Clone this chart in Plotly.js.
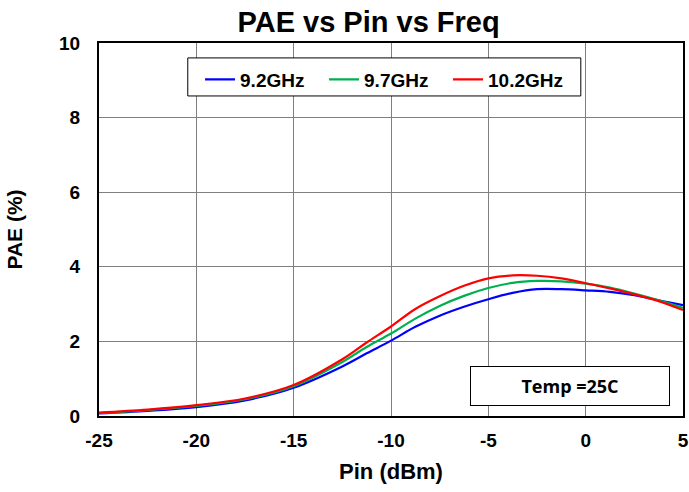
<!DOCTYPE html>
<html><head><meta charset="utf-8">
<script src="https://cdn.plot.ly/plotly-3.0.1.min.js"></script>
<style>body{margin:0;background:#fff}#c{width:689px;height:492px}</style>
</head><body><div id="c"></div>
<script>
const pin = [-25, -22.5, -20, -17.5, -15, -12.5, -11.25, -10, -8.75, -7.5, -6.25, -5, -3.75, -2.5, -1.25, 0, 1.25, 2.5, 3.75, 5];
const pae92 = [0.07, 0.14, 0.24, 0.42, 0.76, 1.33, 1.68, 2.02, 2.39, 2.69, 2.93, 3.13, 3.30, 3.40, 3.40, 3.37, 3.33, 3.24, 3.10, 2.97];
const pae97 = [0.08, 0.16, 0.27, 0.45, 0.80, 1.45, 1.85, 2.21, 2.61, 2.95, 3.22, 3.43, 3.57, 3.62, 3.61, 3.55, 3.44, 3.28, 3.10, 2.90];
const pae102 = [0.09, 0.17, 0.29, 0.47, 0.83, 1.52, 1.97, 2.40, 2.87, 3.21, 3.49, 3.69, 3.77, 3.76, 3.69, 3.56, 3.42, 3.26, 3.08, 2.84];
const names = ['9.2GHz', '9.7GHz', '10.2GHz'];
const colors = ['#0000ff', '#00b050', '#ff0000'];
const xTicks = [-25, -20, -15, -10, -5, 0, 5];
const yTicks = [0, 2, 4, 6, 8, 10];
const series = [pae92, pae97, pae102];
const traces = series.map((v, i) => ({
  x: pin, y: v, name: '<b>' + names[i] + '</b>', type: 'scatter', mode: 'lines',
  line: {color: colors[i], width: 2.2, shape: 'spline', smoothing: 1}
}));
const F = 'Liberation Sans, Arial, sans-serif';
const axisCommon = {
  showgrid: true, gridcolor: '#7f7f7f', gridwidth: 1,
  showline: true, linecolor: '#000', linewidth: 2, mirror: true,
  ticks: '', zeroline: false, fixedrange: true, tickmode: 'array'
};
const layout = {
  width: 689, height: 492,
  margin: {l: 99, r: 6, t: 43, b: 76},
  paper_bgcolor: '#fff', plot_bgcolor: '#fff',
  title: {text: '<b>PAE vs Pin vs Freq</b>', font: {family: F, size: 29, color: '#000'}, x: 0.535, xanchor: 'center', y: 0.955, yanchor: 'middle'},
  xaxis: Object.assign({}, axisCommon, {
    range: [-25, 5], tickvals: xTicks, ticktext: xTicks.map(t => '<b>' + t + '</b>'),
    title: {text: '<b>Pin (dBm)</b>', font: {family: F, size: 22, color: '#000'}, standoff: 14},
    tickfont: {family: F, size: 19, color: '#000'}, ticklabelstandoff: 6
  }),
  yaxis: Object.assign({}, axisCommon, {
    range: [0, 10], tickvals: yTicks, ticktext: yTicks.map(t => '<b>' + t + '</b>'),
    title: {text: '<b>PAE (%)</b>', font: {family: F, size: 21, color: '#000'}, standoff: 31},
    tickfont: {family: F, size: 19, color: '#000'}, ticklabelstandoff: 13
  }),
  legend: {
    orientation: 'h', x: 0.173, y: 0.953, xanchor: 'left', yanchor: 'top',
    bgcolor: 'rgba(0,0,0,0)', borderwidth: 0,
    font: {family: F, size: 19, color: '#000'}, itemwidth: 30,
    entrywidth: 79, traceorder: 'normal'
  },
  shapes: [{
    type: 'rect', xref: 'paper', yref: 'paper',
    x0: 0.152, x1: 0.825, y0: 0.858, y1: 0.960,
    line: {color: '#000', width: 1}, fillcolor: '#fff', layer: 'above'
  }],
  annotations: [{
    xref: 'paper', yref: 'paper', x: 0.806, y: 0.080, xanchor: 'center', yanchor: 'middle',
    text: '<b>Temp =25C</b>', showarrow: false,
    font: {family: 'Open Sans, Liberation Sans, sans-serif', size: 18, color: '#000'},
    bgcolor: '#fff', bordercolor: '#000', borderwidth: 1,
    width: 196, height: 36
  }],
  showlegend: true
};
Plotly.newPlot('c', traces, layout, {displayModeBar: false, staticPlot: true});
</script></body></html>
